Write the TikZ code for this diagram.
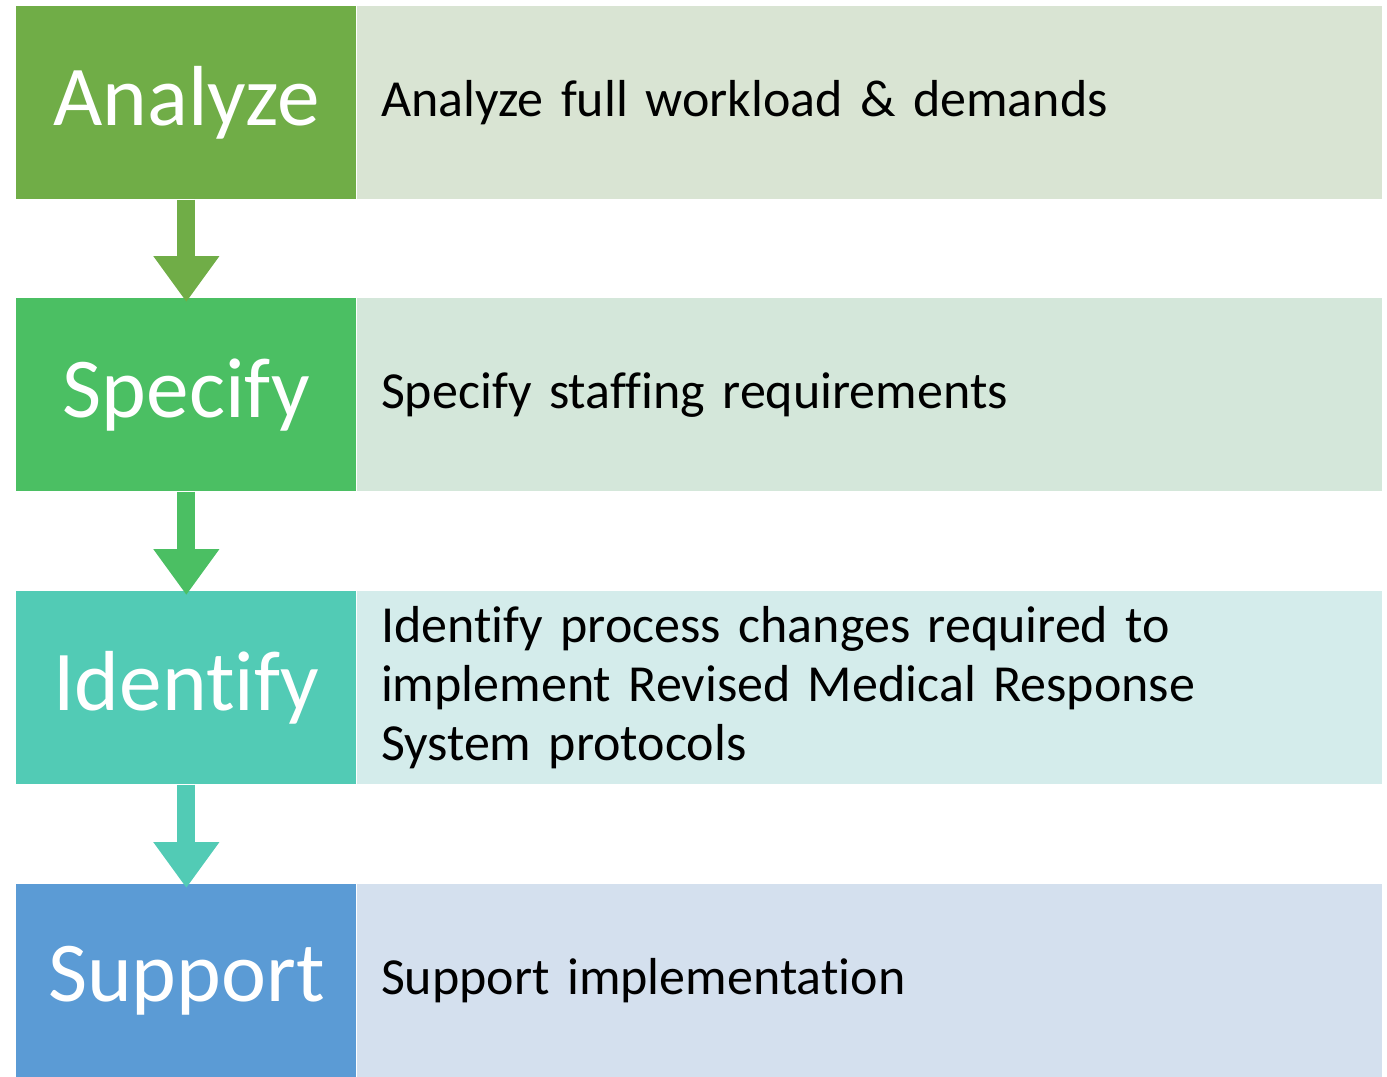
\documentclass[tikz,border=0pt]{standalone}
\usepackage{fontspec}
\setmainfont{Carlito}[Ligatures=NoCommon]
\usetikzlibrary{arrows.meta,positioning}

\definecolor{analyzeDark}{HTML}{70AD47}
\definecolor{analyzeLight}{HTML}{D9E4D3}
\definecolor{specifyDark}{HTML}{4BBF63}
\definecolor{specifyLight}{HTML}{D4E7DA}
\definecolor{identifyDark}{HTML}{52CBB5}
\definecolor{identifyLight}{HTML}{D4ECEB}
\definecolor{supportDark}{HTML}{5B9BD5}
\definecolor{supportLight}{HTML}{D4E0EE}

\begin{document}
\begin{tikzpicture}
\tikzset{
  stage/.style={anchor=north west, minimum width=6.8cm, minimum height=3.86cm,
    inner sep=0pt, text=white, font=\fontsize{48.5}{58}\selectfont},
  detail/.style={anchor=north west, minimum height=3.86cm, text width=19.54cm,
    inner xsep=0.48cm, inner ysep=0pt, align=left,
    font=\fontsize{29.6}{33.6}\selectfont},
  flow/.style={line width=0.36cm, -{Triangle[width=1.26cm,length=0.92cm]},
    shorten >=-0.08cm}
}
\useasboundingbox (0,0) rectangle (27.74,-21.52);

% left column: the four stages
\node[stage, fill=analyzeDark] (analyze) at (0.32,-0.12) {Analyze};
\node[stage, fill=specifyDark] (specify) at (0.32,-5.96) {Specify};
\node[stage, fill=identifyDark] (identify) at (0.32,-11.82) {Identify};
\node[stage, fill=supportDark] (support) at (0.32,-17.68) {Support};

% right column: what each stage does
\node[detail, fill=analyzeLight] (analyzeTxt) at (analyze.north east)
  {Analyze full workload \& demands};
\node[detail, fill=specifyLight] (specifyTxt) at (specify.north east)
  {Specify staffing requirements};
\node[detail, fill=identifyLight] (identifyTxt) at (identify.north east)
  {Identify process changes required to\\implement Revised Medical Response\\System protocols};
\node[detail, fill=supportLight] (supportTxt) at (support.north east)
  {Support implementation};

% arrows between stages
\draw[flow, analyzeDark] (analyze.south) -- (specify.north);
\draw[flow, specifyDark] (specify.south) -- (identify.north);
\draw[flow, identifyDark] (identify.south) -- (support.north);
\end{tikzpicture}
\end{document}
